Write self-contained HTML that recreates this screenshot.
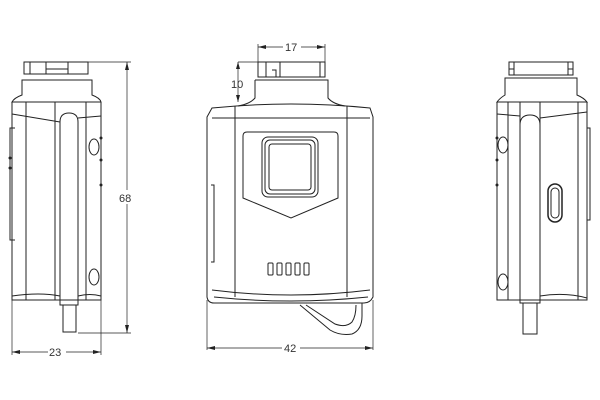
<!DOCTYPE html>
<html><head><style>
html,body{margin:0;padding:0;background:#fff;width:600px;height:400px;overflow:hidden}
svg{display:block}
text{font-family:"Liberation Sans",sans-serif;font-size:11px;fill:#333}
</style></head><body>
<svg width="600" height="400" viewBox="0 0 600 400" fill="none" stroke="#222" stroke-width="1">
<!-- LEFT VIEW -->
<g>
<path d="M24 62 H88 V74 H24 Z M30 62 V74 M46 62 V74 M68 62 V74 M46 69 H68"/>
<path d="M22 80 H92 V95 Q100 98 101 102 H12 Q14 98 22 95 Z"/>
<path d="M12 102 V300 H101 V102"/>
<path d="M12 114 L60 122 M78 118 L101 116"/>
<path d="M26 102 V300 M55 102 V300 M86 102 V300"/>
<path d="M15 128 H10 V240 H15"/>
<path d="M60 305 V122 Q60 113 69 113 Q78 113 78 122 V305 Z"/>
<path d="M63 305 V332 H76 V305"/>
<path d="M12 296 Q40 292 60 296 M78 296 Q90 293 101 296"/>
<ellipse cx="94" cy="147" rx="5" ry="8"/>
<ellipse cx="94" cy="277" rx="5" ry="8"/>
<circle cx="101" cy="138" r="1" fill="#222"/><circle cx="101" cy="160" r="1" fill="#222"/><circle cx="101" cy="185" r="1" fill="#222"/>
<circle cx="10" cy="158" r="1" fill="#222"/><circle cx="10" cy="168" r="1" fill="#222"/>
<!-- dims -->
<path stroke-width="0.7" d="M88 62 H131 M78 333 H131 M127 62 V333 M12 300 V355 M101 300 V355 M12 352 H101"/>
<path fill="#222" stroke="none" d="M127 62 l-2 8 h4z M127 333 l-2 -8 h4z M12 352 l8 -2 v4z M101 352 l-8 -2 v4z"/>
<rect x="118" y="190" width="18" height="14" fill="#fff" stroke="none"/>
<text x="119" y="202" stroke="none">68</text>
<rect x="48" y="346" width="18" height="12" fill="#fff" stroke="none"/>
<text x="49" y="356" stroke="none">23</text>
</g>
<!-- MIDDLE VIEW -->
<g>
<path d="M258 62 H325 V77 H258 Z M266 62 V77 M280 62 V77 M320 62 V77 M272 70 H276 V77"/>
<path d="M255 80 H328 V98 Q333 104 345 106 M255 80 V98 Q250 104 238 106"/>
<path d="M212 108 Q291 100 370 108 L373 117 V297 Q370 303 364 303 H214 Q208 303 207 297 V117 Z"/>
<path d="M212 118 H370 M235 106 V297 M347 106 V297"/>
<path d="M212 290 Q291 300 370 290 M214 297 Q291 305 368 297"/>
<path d="M243 136 Q243 132 247 132 H334 Q338 132 338 136 V198 L291 218 L243 198 Z"/>
<rect x="262" y="137" width="56" height="60" rx="6"/>
<rect x="265" y="140" width="50" height="54" rx="5"/>
<rect x="269" y="144" width="42" height="46" rx="3"/>
<g><rect x="268" y="263" width="5" height="12" rx="1"/><rect x="277" y="263" width="5" height="12" rx="1"/><rect x="286" y="263" width="5" height="12" rx="1"/><rect x="295" y="263" width="5" height="12" rx="1"/><rect x="304" y="263" width="5" height="12" rx="1"/></g>
<path d="M211 185 H214 V262 H211"/>
<path d="M300 305 L330 330 Q340 336 352 334 Q362 330 362 316 V303 M306 305 L335 324 Q346 328 352 322 Q356 316 356 305"/>
<!-- dims -->
<path stroke-width="0.7" d="M258 62 V44 M325 62 V44 M258 47 H325 M238 62 H258 M238 62 V102"/>
<path fill="#222" stroke="none" d="M258 47 l8 -2 v4z M325 47 l-8 -2 v4z M238 62 l-2 7 h4z M238 102 l-2 -7 h4z"/>
<rect x="283" y="41" width="18" height="12" fill="#fff" stroke="none"/>
<text x="285" y="51" stroke="none">17</text>
<text x="231" y="88" stroke="none">10</text>
<path stroke-width="0.7" d="M207 300 V350 M373 300 V350 M207 348 H373"/>
<path fill="#222" stroke="none" d="M207 348 l8 -2 v4z M373 348 l-8 -2 v4z"/>
<rect x="282" y="342" width="18" height="12" fill="#fff" stroke="none"/>
<text x="284" y="352" stroke="none">42</text>
</g>
<!-- RIGHT VIEW -->
<g>
<path d="M509 62 H573 V75 H509 Z M514 62 V75 M568 62 V75 M509 69 H514 M568 69 H573"/>
<path d="M505 78 H577 V95 Q584 98 587 102 H497 Q500 98 505 95 Z"/>
<path d="M497 102 V300 H587 V102"/>
<path d="M497 114 L520 116 M540 118 L587 112"/>
<path d="M508 102 V300 M520 102 V300 M540 102 V300 M578 102 V300"/>
<path d="M587 128 H590 V220 H587"/>
<path d="M520 303 V125 Q520 115 530 115 Q540 115 540 125 V303 Z"/>
<path d="M523 303 V334 H537 V303"/>
<path d="M540 296 Q565 292 587 298"/>
<ellipse cx="503" cy="145" rx="5" ry="8"/>
<ellipse cx="503" cy="282" rx="5" ry="8"/>
<rect x="548" y="184" width="14" height="38" rx="7" stroke-width="1.5"/>
<rect x="551" y="188" width="8" height="30" rx="4"/>
<circle cx="497" cy="138" r="1" fill="#222"/><circle cx="497" cy="160" r="1" fill="#222"/><circle cx="497" cy="185" r="1" fill="#222"/>
</g>
</svg>
</body></html>
